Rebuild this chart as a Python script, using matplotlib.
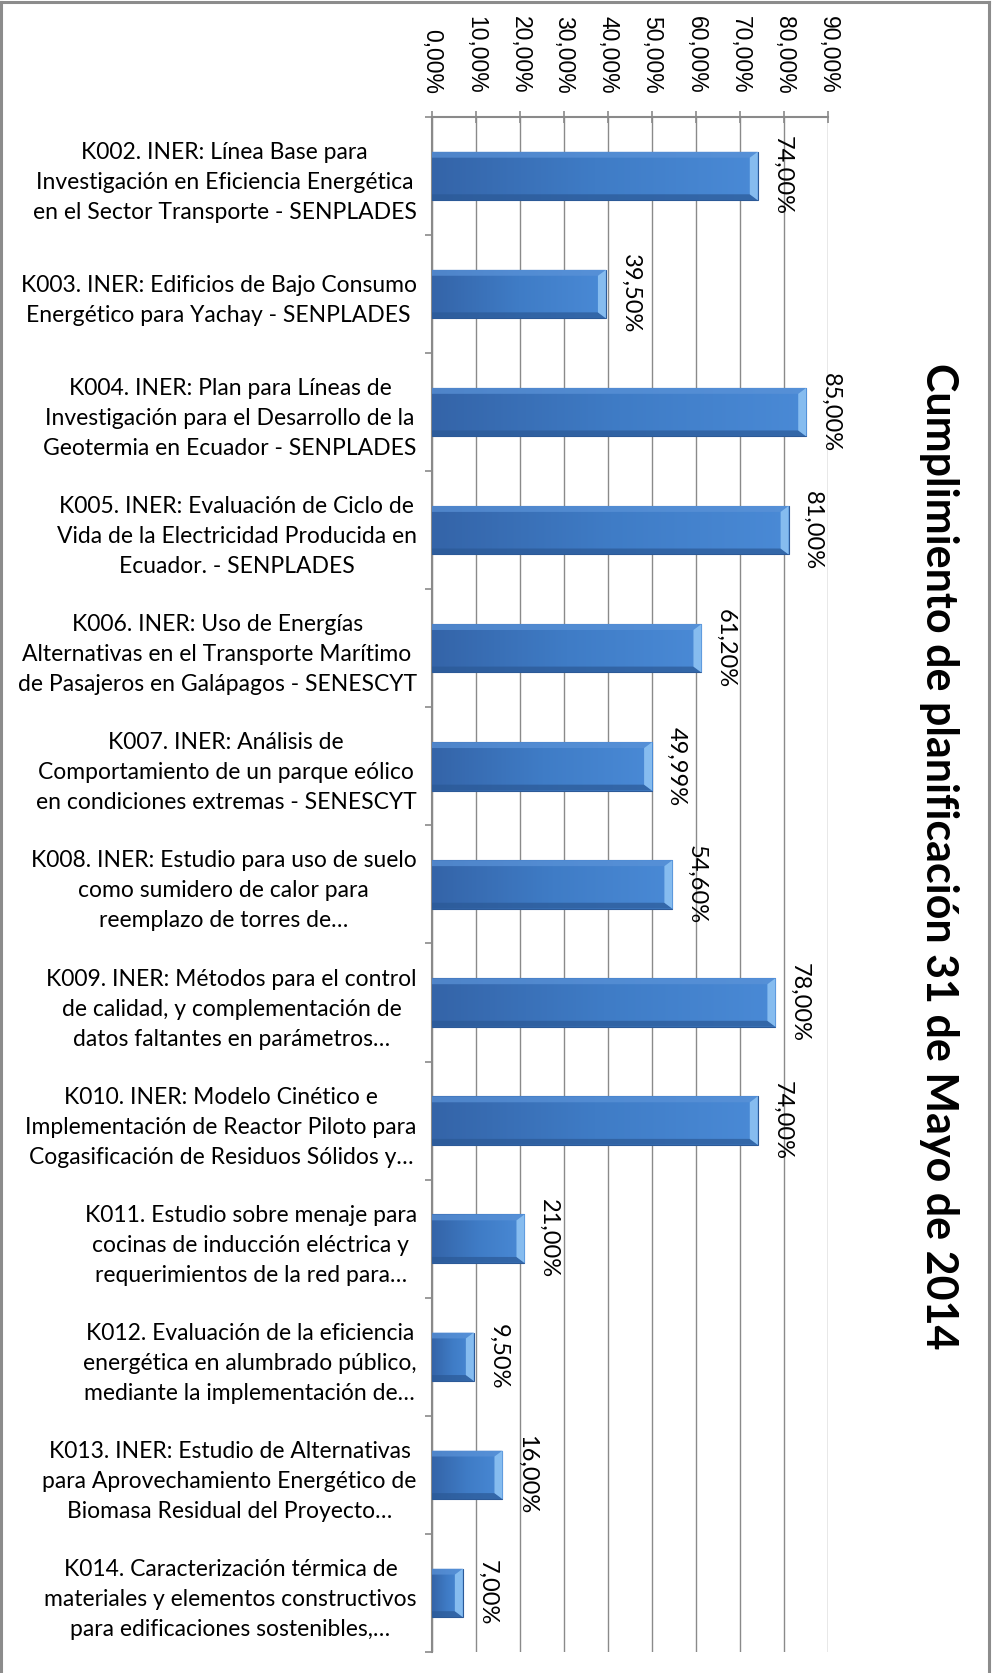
import numpy as np
import matplotlib
matplotlib.use("Agg")
import matplotlib.pyplot as plt
from matplotlib.colors import LinearSegmentedColormap
from matplotlib.patches import Polygon
from matplotlib.lines import Line2D

plt.rcParams['font.family'] = ['Lato', 'DejaVu Sans']

# datos del grafico
categorias = [
    "K002. INER: Línea Base para\nInvestigación en Eficiencia Energética\nen el Sector Transporte - SENPLADES",
    "K003. INER: Edificios de Bajo Consumo\nEnergético para Yachay - SENPLADES",
    "K004. INER: Plan para Líneas de\nInvestigación para el Desarrollo de la\nGeotermia en Ecuador - SENPLADES",
    "K005. INER: Evaluación de Ciclo de\nVida de la Electricidad Producida en\nEcuador. - SENPLADES",
    "K006. INER: Uso de Energías\nAlternativas en el Transporte Marítimo\nde Pasajeros en Galápagos - SENESCYT",
    "K007. INER: Análisis de\nComportamiento de un parque eólico\nen condiciones extremas - SENESCYT",
    "K008. INER: Estudio para uso de suelo\ncomo sumidero de calor para\nreemplazo de torres de…",
    "K009. INER: Métodos para el control\nde calidad, y complementación de\ndatos faltantes en parámetros…",
    "K010. INER: Modelo Cinético e\nImplementación de Reactor Piloto para\nCogasificación de Residuos Sólidos y…",
    "K011. Estudio sobre menaje para\ncocinas de inducción eléctrica y\nrequerimientos de la red para…",
    "K012. Evaluación de la eficiencia\nenergética en alumbrado público,\nmediante la implementación de…",
    "K013. INER: Estudio de Alternativas\npara Aprovechamiento Energético de\nBiomasa Residual del Proyecto…",
    "K014. Caracterización térmica de\nmateriales y elementos constructivos\npara edificaciones sostenibles,…",
]
cumplimiento = [74.0, 39.5, 85.0, 81.0, 61.2, 49.99, 54.6, 78.0, 74.0, 21.0, 9.5, 16.0, 7.0]
ticks_x = np.arange(0, 91, 10)
titulo = "Cumplimiento de planificación 31 de Mayo de 2014"


def pct(v):
    return ("%.2f%%" % v).replace('.', ',')


gris = '#8a8a8a'
fig = plt.figure(figsize=(9.93, 16.73), dpi=100)
ax = fig.add_axes([0.435, 0.0126, 0.399, 0.9175])

y = np.arange(len(categorias))
h = 0.41
bars = ax.barh(y, cumplimiento, height=h, color='#3d74bd', edgecolor='#2c5a98',
               linewidth=0.8, zorder=3)

cmap = LinearSegmentedColormap.from_list('azul', ['#3464a8', '#3f7cc6', '#4a8ad6'])
grad = np.linspace(0, 1, 256).reshape(1, -1)
bev = 1.8
d = 0.05
for yi, v, b in zip(y, cumplimiento, bars):
    im = ax.imshow(grad, extent=[0, v, yi + h / 2, yi - h / 2], cmap=cmap,
                   aspect='auto', zorder=3.2)
    im.set_clip_path(b)
    # bisel claro en el extremo
    ax.add_patch(Polygon([(v - bev, yi - h / 2 + d), (v, yi - h / 2), (v, yi + h / 2),
                          (v - bev, yi + h / 2 - d)], closed=True,
                         facecolor='#86bcef', edgecolor='none', zorder=3.4))
    ax.add_patch(Polygon([(0, yi - h / 2), (v, yi - h / 2), (v - bev, yi - h / 2 + d),
                          (0, yi - h / 2 + d)], closed=True,
                         facecolor='#5b93d8', edgecolor='none', alpha=0.7, zorder=3.3))
    ax.add_patch(Polygon([(0, yi + h / 2), (v, yi + h / 2), (v - bev, yi + h / 2 - d),
                          (0, yi + h / 2 - d)], closed=True,
                         facecolor='#2b5996', edgecolor='none', alpha=0.7, zorder=3.3))
    ax.annotate(pct(v), (v, yi), xytext=(10, 0), textcoords='offset points',
                rotation=-90, ha='left', va='center', fontsize=17, zorder=5)

ax.set_xlim(0, 90)
ax.set_ylim(len(categorias) - 0.5, -0.5)

ax.xaxis.tick_top()
ax.set_xticks(ticks_x)
ax.set_xticklabels([pct(t) for t in ticks_x], rotation=-90)
ax.tick_params(axis='x', direction='inout', length=9, width=1.2, color=gris, pad=12,
               labelsize=16.5, labelfontfamily='Liberation Sans')

ax.set_yticks(y)
ax.set_yticklabels(categorias, multialignment='center', linespacing=1.53)
ax.tick_params(axis='y', length=0, pad=11, labelsize=16.5)
ax.set_yticks(np.arange(-0.5, len(categorias)), minor=True)
ax.tick_params(axis='y', which='minor', direction='out', length=5, width=1.2, color=gris)

ax.grid(axis='x', color=gris, linewidth=1.0)
ax.set_axisbelow(True)
for s in ['right', 'bottom']:
    ax.spines[s].set_visible(False)
for s in ['left', 'top']:
    ax.spines[s].set_color(gris)
    ax.spines[s].set_linewidth(1.5)

fig.text(0.946, 0.488, titulo, rotation=-90, fontsize=31, fontweight='bold',
         ha='center', va='center')

# marco del grafico
borde = dict(color='#8c8c8c', linewidth=2.2, transform=fig.transFigure)
fig.add_artist(Line2D([0.0015, 0.0015], [0.0, 0.9988], **borde))
fig.add_artist(Line2D([0.0015, 0.9958], [0.9988, 0.9988], **borde))
fig.add_artist(Line2D([0.9958, 0.9958], [0.0, 0.9988], **borde))

fig.savefig('out.png', dpi=100)
